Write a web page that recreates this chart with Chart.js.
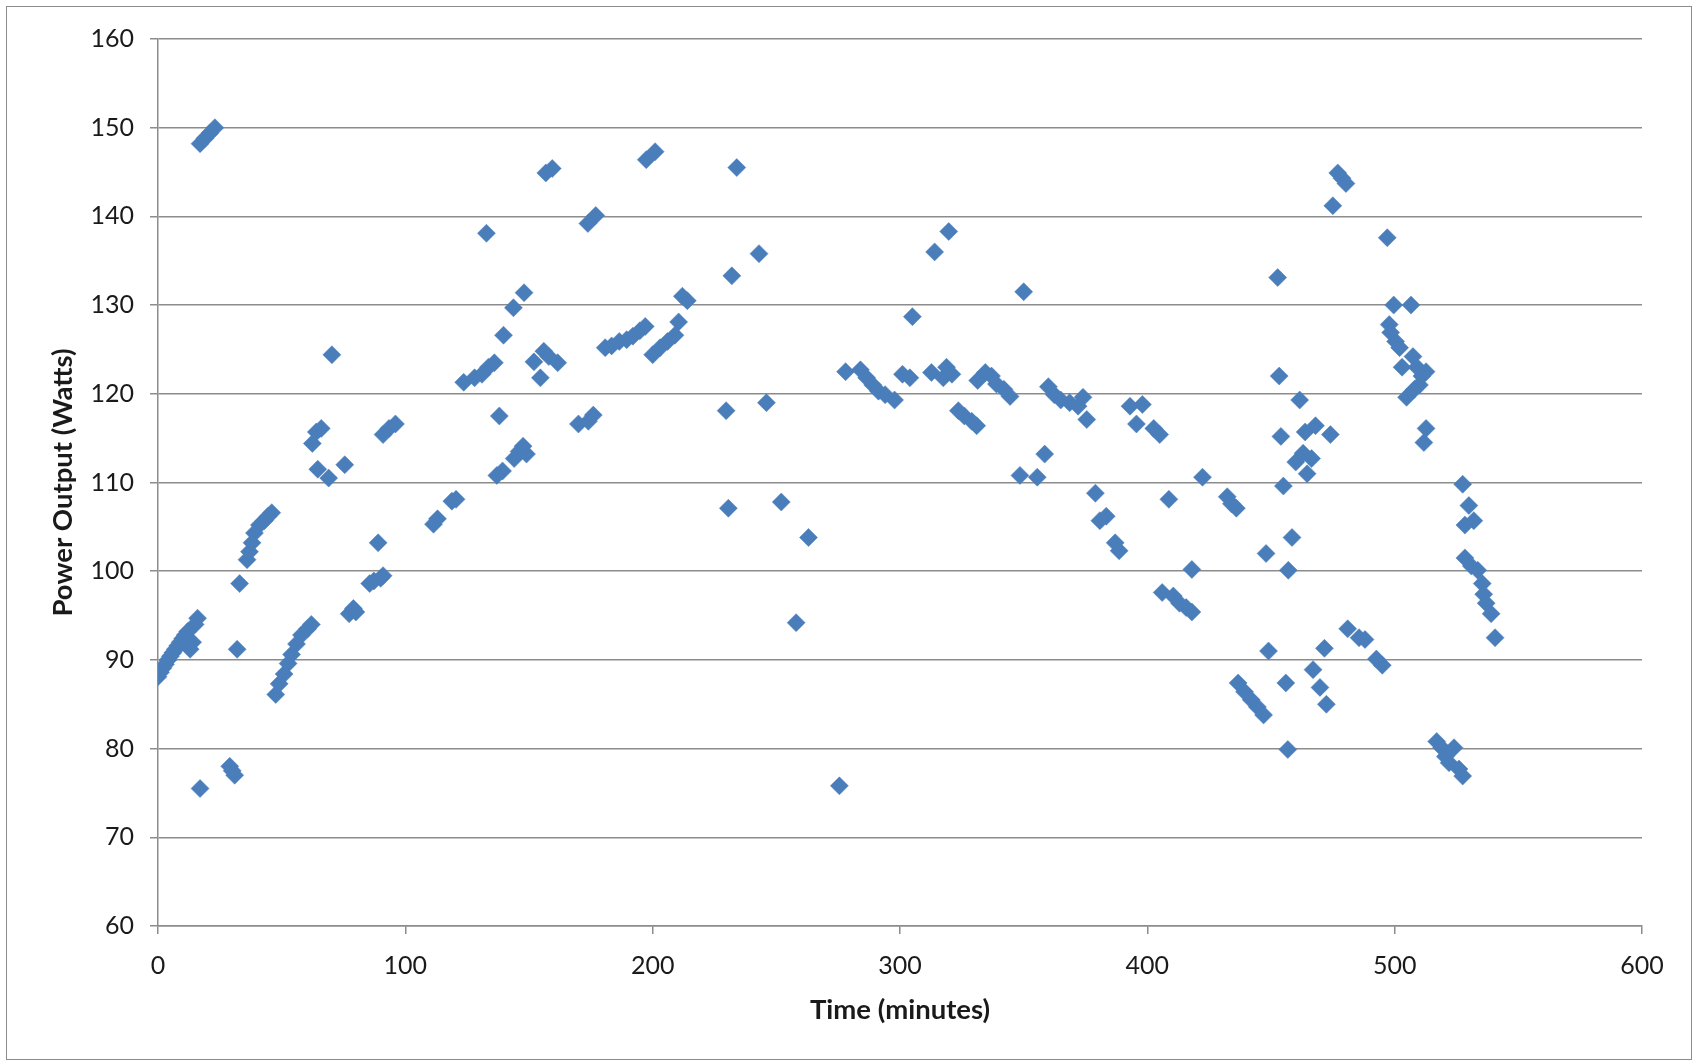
<!DOCTYPE html>
<html>
<head>
<meta charset="utf-8">
<script src="https://cdn.jsdelivr.net/npm/chart.js@4.4.0/dist/chart.umd.min.js"></script>
<style>
  body { margin: 0; background: #fff; }
  #frame {
    position: absolute; left: 6px; top: 6px;
    width: 1684px; height: 1052px;
    border: 1px solid #8c8c8c;
  }
</style>
</head>
<body>
<div id="frame"><canvas id="myChart" width="1684" height="1052"></canvas></div>
<script>
// time since start, in minutes
var timeMinutes = [0,1,2,3,4,5,6,7,8,9,10,11,12,13,14,15,16,17,17,19,21,23,29,30,31,32,33,36,37,38,39,41,43,44.5,46,
  47.6,49,51,52.6,54,56,58,60.5,62,62.4,64,66,64.6,69,70.3,75.5,77.3,79,80,85.6,87.3,89,90,91,91,93.4,96,
  111.4,113,118.8,120.5,123.6,128,131,132.8,133.6,136,137,138,139.3,139.7,143.7,144,146,147.6,148,149,
  152,154.6,156,156.8,158,159.4,161.6,170,173.8,174,176,177,180.8,183.4,186.5,189.5,192,194.8,197,197.4,
  200,201,203,206,209,210.5,212,214,229.7,230.6,232,234,243,246,252,258,263,275.5,
  278,284,286.5,289,291.3,294,297.8,301,304,305,312.7,314,317.5,318.8,319.7,321,323.6,326,329,331,
  331.4,334.5,337,339,342,344.5,348.5,350,355.5,358.5,360,362.4,365,368.6,372,374,375.5,379,380.8,383.4,
  387,388.6,393,395.6,398,402.6,405,406,408.7,410.5,413,415.7,418,418,422.3,432.3,434,436,436.7,439.3,
  442,444.5,447,448,449,452.7,453.3,454,455,456,456.8,457,458.5,460,461.6,463,463.8,464.6,466.4,467,468,
  469.8,471.6,472.4,474,475,477,478.7,480.3,481,485.6,488,492.6,495,497,497.8,498.4,499.6,500.4,502,503,
  504.8,506.6,507.4,508,509,510,511,511.8,512.7,512.7,517,519,520.5,522,524,526,527.5,527.5,528.4,528.4,
  530,531,532,533.6,535.4,536,537,539,540.6];
// power output, in watts
var powerWatts = [88.1,88.6,89.1,89.5,90,90.4,90.8,91.2,91.6,92,92.4,92.8,93.2,91.2,92,94,94.7,75.5,148.2,148.8,149.4,150,78,77.5,77,91.2,98.6,101.3,102.2,103.2,104.3,105.2,105.7,106.2,106.6,
  86.1,87.3,88.4,89.6,90.6,91.8,92.8,93.5,94,114.4,115.7,116.1,111.5,110.5,124.4,112,95.2,95.8,95.4,98.6,98.9,103.2,99.2,99.5,115.4,116.1,116.6,
  105.3,105.9,107.9,108.1,121.3,121.8,122.2,138.1,123,123.5,110.8,117.5,111.3,126.6,129.7,112.7,113.5,114.1,131.4,113.2,
  123.6,121.8,124.8,144.9,124.2,145.4,123.5,116.6,139.2,116.9,117.6,140.1,125.2,125.4,125.9,126.1,126.5,127.1,127.6,146.4,
  124.4,147.3,125.2,125.9,126.6,128.1,131,130.5,118.1,107.1,133.3,145.5,135.8,119,107.8,94.2,103.8,75.8,
  122.5,122.7,121.8,121,120.3,119.9,119.3,122.2,121.8,128.7,122.4,136,121.8,123,138.3,122.2,118.1,117.5,116.9,116.4,
  121.5,122.4,122,121.1,120.5,119.7,110.8,131.5,110.6,113.2,120.8,119.9,119.3,119,118.6,119.6,117.1,108.8,105.7,106.2,
  103.2,102.3,118.6,116.6,118.8,116.1,115.4,97.6,108.1,97.2,96.4,95.9,95.4,100.2,110.6,108.4,107.6,107.1,87.4,86.4,
  85.5,84.7,83.8,102,91,133.1,122,115.2,109.6,87.4,79.9,100.1,103.8,112.3,119.3,113.3,115.7,111,112.7,88.9,116.4,
  86.9,91.3,85,115.4,141.2,144.9,144.3,143.7,93.5,92.5,92.3,90.1,89.4,137.6,127.8,126.9,130,125.9,125.2,123,
  119.6,130,124.2,120.5,123,121,122,114.5,116.1,122.5,80.8,80.1,79.1,78.4,80.1,77.7,76.9,109.8,105.2,101.5,
  107.4,100.6,105.7,100.1,98.6,97.4,96.4,95.2,92.5];

var points = timeMinutes.map(function (t, i) { return { x: t, y: powerWatts[i] }; });

var gridGrey = "#8c8c8c";
var fontFam = "Lato, 'Liberation Sans', Arial, sans-serif";

var ctx = document.getElementById("myChart");
var myChart = new Chart(ctx, {
  type: 'scatter',
  data: {
    datasets: [
      {
        data: points,
        label: "Power",
        pointStyle: 'rectRot',
        pointRadius: 9,
        pointBackgroundColor: "#4a7ebb",
        pointBorderColor: "#4a7ebb",
        pointBorderWidth: 0.5
      }
    ]
  },
  options: {
    responsive: false,
    animation: false,
    layout: { padding: { left: 0, top: 32, right: 49, bottom: 0 } },
    plugins: { legend: { display: false }, tooltip: { enabled: false } },
    scales: {
      x: {
        type: 'linear',
        min: 0, max: 600,
        ticks: { stepSize: 100, color: "#1a1a1a", padding: 17, font: { family: fontFam, size: 25 } },
        grid: { drawOnChartArea: false, drawTicks: true, tickLength: 8, color: gridGrey, lineWidth: 1.5 },
        border: { display: true, color: gridGrey, width: 1.5 },
        title: { display: true, text: "Time (minutes)", color: "#1a1a1a",
                 font: { family: fontFam, size: 27.5, weight: 'bold' }, padding: { top: 0, bottom: 32 } },
        afterFit: function (scale) { scale.height = 133; }
      },
      y: {
        min: 60, max: 160,
        ticks: { stepSize: 10, color: "#1a1a1a", padding: 16, font: { family: fontFam, size: 25 } },
        grid: { drawTicks: true, tickLength: 8, color: gridGrey, lineWidth: 1.5 },
        border: { display: true, color: gridGrey, width: 1.5 },
        title: { display: true, text: "Power Output (Watts)", color: "#1a1a1a",
                 font: { family: fontFam, size: 27.5, weight: 'bold' }, padding: { top: 40, bottom: 0 } },
        afterFit: function (scale) { scale.width = 151; }
      }
    }
  }
});
</script>
</body>
</html>
